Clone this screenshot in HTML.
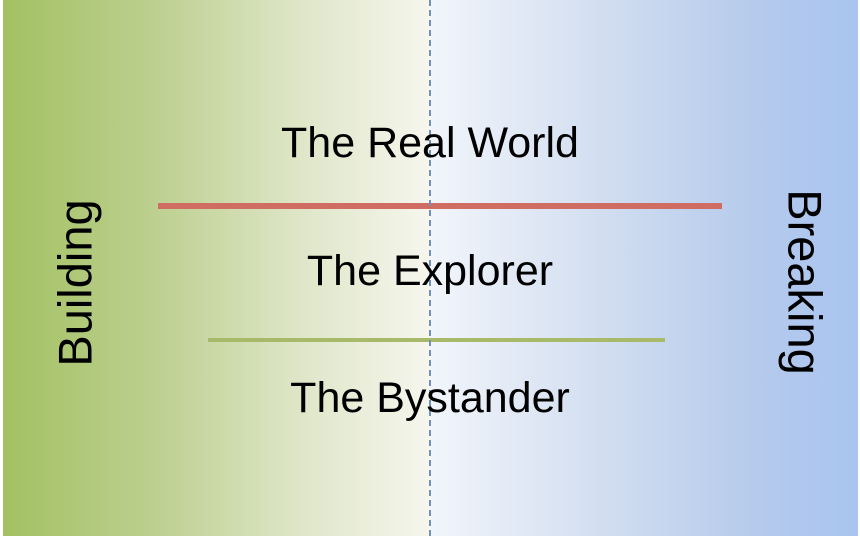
<!DOCTYPE html>
<html><head><style>
html,body{margin:0;padding:0;}
body{width:860px;height:536px;position:relative;overflow:hidden;font-family:"Gill Sans","Liberation Sans",sans-serif;background:#fff;}
.l{position:absolute;left:3px;top:0;width:427px;height:536px;background:linear-gradient(to right,#a3c162 0%,#bccf8f 35%,#dfe6c8 70%,#f6f6ee 100%);}
.r{position:absolute;left:430px;top:0;width:428px;height:536px;background:linear-gradient(to right,#f2f5fb 0%,#d2def0 40%,#b6cbec 75%,#a9c4f0 100%);}
.dash{position:absolute;left:429px;top:0;height:536px;border-left:2px dashed #6f92b8;}
.t{position:absolute;left:0;width:860px;text-align:center;font-size:43px;color:#000;}
.red{position:absolute;left:158px;top:203px;width:564px;height:6px;background:#d06d62;}
.grn{position:absolute;left:208px;top:338px;width:457px;height:4px;background:#a8ba6a;}
.v{position:absolute;font-size:47px;white-space:nowrap;}
</style></head><body>
<div class="l"></div><div class="r"></div>
<div class="red"></div><div class="grn"></div>
<div class="dash"></div>
<div class="t" style="top:119px">The Real World</div>
<div class="t" style="top:247px">The Explorer</div>
<div class="t" style="top:374px">The Bystander</div>
<div class="v" style="left:75px;top:283px;transform:translate(-50%,-50%) rotate(-90deg)">Building</div>
<div class="v" style="left:805px;top:282px;transform:translate(-50%,-50%) rotate(90deg)">Breaking</div>
</body></html>
